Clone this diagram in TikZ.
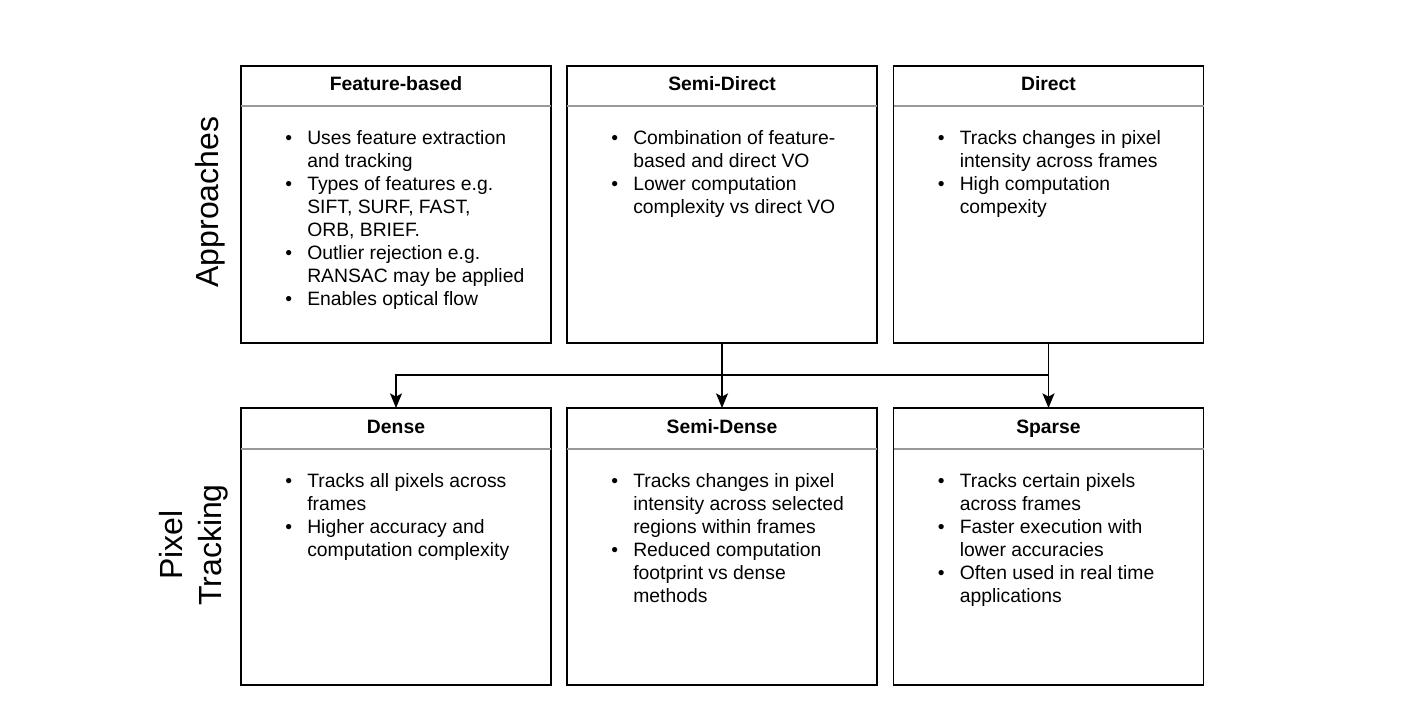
\documentclass[tikz,border=0pt]{standalone}
\usepackage{fontspec}
\setmainfont{Liberation Sans}
\usetikzlibrary{positioning,calc,arrows.meta}

\tikzset{
	panel/.style={draw=black, line width=1.1pt, outer sep=0pt, minimum width=232.5pt, minimum height=207.75pt},
	title/.style={anchor=base, inner sep=0pt, font=\bfseries\fontsize{14.5}{17.25}\selectfont},
	body/.style={anchor=north west, inner sep=0pt, font=\fontsize{14.5}{17.25}\selectfont},
	rule/.style={draw=black!40, line width=0.8pt},
	side/.style={rotate=90, align=center, inner sep=0pt, font=\fontsize{24}{29}\selectfont},
	link/.style={draw=black, line width=1.2pt, -{Stealth[length=11pt, width=9pt, inset=2.5pt]}}
}

\begin{document}
\begin{tikzpicture}[x=0.75pt, y=-0.75pt]
	\useasboundingbox (0,0) rectangle (1402,706);

	% side labels
	\node[side] (appr) at (210,202) {Approaches};
	\node[side] (pix) at (194,545) {Pixel\\Tracking};

	% approaches
	\node[panel] (feat) at (396,204.5) {};
	\node[title] (feat-t) at ($(feat.north)+(0,25)$) {Feature-based};
	\draw[rule] ($(feat.north west)+(0,40)$) -- ($(feat.north east)+(0,40)$);
	\node[body] (feat-b) at ($(feat.north west)+(44,62)$) {\begin{tabular}{@{}p{16.5pt}@{}l@{}}
		\textbullet & Uses feature extraction\\ & and tracking\\
		\textbullet & Types of features e.g.\\ & SIFT, SURF, FAST,\\ & ORB, BRIEF.\\
		\textbullet & Outlier rejection e.g.\\ & RANSAC may be applied\\
		\textbullet & Enables optical flow
	\end{tabular}};

	\node[panel] (semidir) at (722,204.5) {};
	\node[title] (semidir-t) at ($(semidir.north)+(0,25)$) {Semi-Direct};
	\draw[rule] ($(semidir.north west)+(0,40)$) -- ($(semidir.north east)+(0,40)$);
	\node[body] (semidir-b) at ($(semidir.north west)+(44,62)$) {\begin{tabular}{@{}p{16.5pt}@{}l@{}}
		\textbullet & Combination of feature-\\ & based and direct VO\\
		\textbullet & Lower computation\\ & complexity vs direct VO
	\end{tabular}};

	\node[panel] (dir) at (1048.5,204.5) {};
	\node[title] (dir-t) at ($(dir.north)+(0,25)$) {Direct};
	\draw[rule] ($(dir.north west)+(0,40)$) -- ($(dir.north east)+(0,40)$);
	\node[body] (dir-b) at ($(dir.north west)+(44,62)$) {\begin{tabular}{@{}p{16.5pt}@{}l@{}}
		\textbullet & Tracks changes in pixel\\ & intensity across frames\\
		\textbullet & High computation\\ & compexity
	\end{tabular}};

	% pixel tracking
	\node[panel] (dense) at (396,546.5) {};
	\node[title] (dense-t) at ($(dense.north)+(0,25)$) {Dense};
	\draw[rule] ($(dense.north west)+(0,41)$) -- ($(dense.north east)+(0,41)$);
	\node[body] (dense-b) at ($(dense.north west)+(44,63)$) {\begin{tabular}{@{}p{16.5pt}@{}l@{}}
		\textbullet & Tracks all pixels across\\ & frames\\
		\textbullet & Higher accuracy and\\ & computation complexity
	\end{tabular}};

	\node[panel] (semiden) at (722,546.5) {};
	\node[title] (semiden-t) at ($(semiden.north)+(0,25)$) {Semi-Dense};
	\draw[rule] ($(semiden.north west)+(0,41)$) -- ($(semiden.north east)+(0,41)$);
	\node[body] (semiden-b) at ($(semiden.north west)+(44,63)$) {\begin{tabular}{@{}p{16.5pt}@{}l@{}}
		\textbullet & Tracks changes in pixel\\ & intensity across selected\\ & regions within frames\\
		\textbullet & Reduced computation\\ & footprint vs dense\\ & methods
	\end{tabular}};

	\node[panel] (sparse) at (1048.5,546.5) {};
	\node[title] (sparse-t) at ($(sparse.north)+(0,25)$) {Sparse};
	\draw[rule] ($(sparse.north west)+(0,41)$) -- ($(sparse.north east)+(0,41)$);
	\node[body] (sparse-b) at ($(sparse.north west)+(44,63)$) {\begin{tabular}{@{}p{16.5pt}@{}l@{}}
		\textbullet & Tracks certain pixels\\ & across frames\\
		\textbullet & Faster execution with\\ & lower accuracies\\
		\textbullet & Often used in real time\\ & applications
	\end{tabular}};

	% links
	\coordinate (split) at ($(dir.south)+(0,32)$);
	\draw[link] (semidir.south) -- (semiden.north);
	\draw[link] (dir.south) -- (split) -| (dense.north);
	\draw[link] (split) -- (sparse.north);
\end{tikzpicture}
\end{document}
